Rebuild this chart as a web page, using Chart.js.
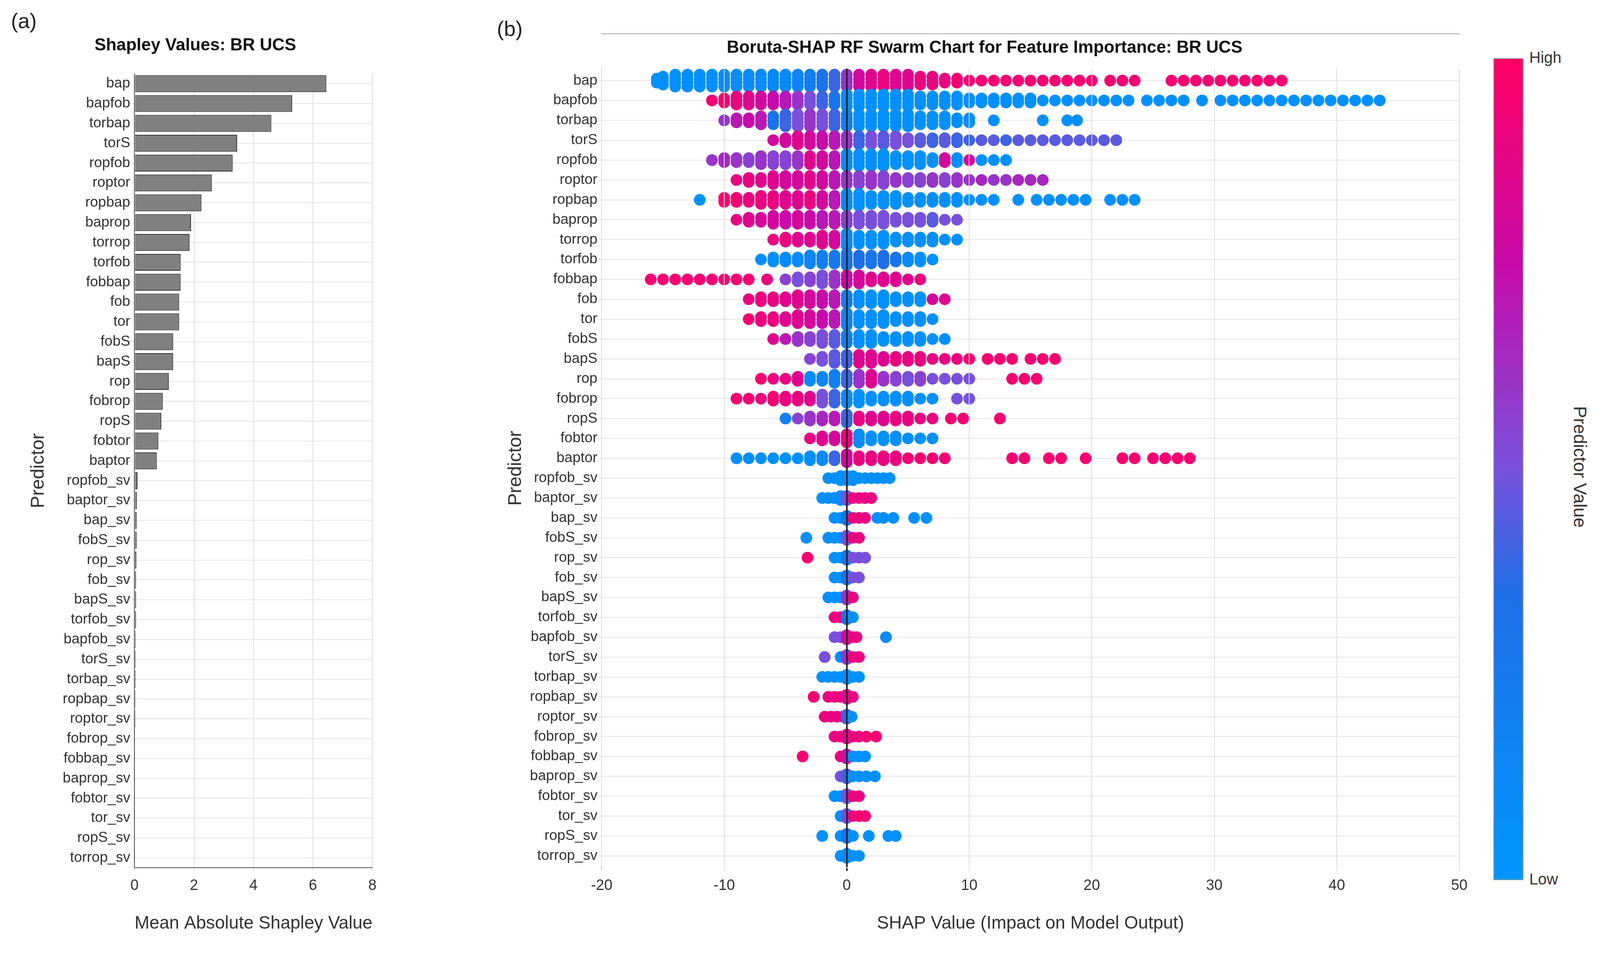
<!DOCTYPE html>
<html><head><meta charset="utf-8">
<script src="https://cdn.jsdelivr.net/npm/chart.js@4.4.1/dist/chart.umd.min.js"></script>
<style>
body{margin:0;width:4205px;height:2488px;background:#fff;position:relative;font-family:Arial,"Liberation Sans",sans-serif;overflow:hidden}
.lab{position:absolute;font-size:54px;color:#222}
#cA{position:absolute;left:40px;top:80px}
#cB{position:absolute;left:1288px;top:86px}
#cbar{position:absolute;left:3823px;top:149px;width:73px;height:2100px;border:2px solid #999;background:linear-gradient(to bottom,rgb(255,0,100),rgb(200,10,170) 25%,rgb(120,80,220) 50%,rgb(30,110,230) 65%,rgb(0,150,255))}
.ct{position:absolute;font-size:40px;color:#333}
</style></head><body>
<div class="lab" style="left:28px;top:22px">(a)</div>
<div class="lab" style="left:1272px;top:42px">(b)</div>
<canvas id="cA" width="940" height="2316"></canvas>
<canvas id="cB" width="2485" height="2310"></canvas>
<div id="cbar"></div>
<div class="ct" style="left:3915px;top:125px">High</div>
<div class="ct" style="left:3915px;top:2228px">Low</div>
<div class="ct" style="left:4045px;top:1195px;font-size:46px;transform:translate(-50%,-50%) rotate(90deg);white-space:nowrap">Predictor Value</div>
<script>
const predictors=["bap","bapfob","torbap","torS","ropfob","roptor","ropbap","baprop","torrop","torfob","fobbap","fob","tor","fobS","bapS","rop","fobrop","ropS","fobtor","baptor","ropfob_sv","baptor_sv","bap_sv","fobS_sv","rop_sv","fob_sv","bapS_sv","torfob_sv","bapfob_sv","torS_sv","torbap_sv","ropbap_sv","roptor_sv","fobrop_sv","fobbap_sv","baprop_sv","fobtor_sv","tor_sv","ropS_sv","torrop_sv"];
const meanAbsShap=[6.45,5.3,4.6,3.45,3.3,2.6,2.25,1.9,1.85,1.55,1.55,1.5,1.5,1.3,1.3,1.15,0.95,0.9,0.8,0.75,0.1,0.08,0.07,0.07,0.06,0.05,0.05,0.05,0.04,0.04,0.04,0.03,0.03,0.02,0.02,0.02,0.02,0.02,0.02,0.02];
const xTicksA=[0,2,4,6,8];
const xTicksB=[-20,-10,0,10,20,30,40,50];
// swarm points per predictor: "shap,colour(0=low,1=high),stackCount"
const swarm=[
"-15.5,.05,2 -15,.05,3 -14,.05,4 -13,.05,4 -12,.05,4 -11,.05,4 -10,.08,4 -9,.1,4 -8,.1,4 -7,.1,4 -6,.12,4 -5,.12,4 -4,.15,4 -3,.2,4 -2,.3,4 -1,.4,4 0,.6,4 1,.8,4 2,.85,4 3,.9,4 4,.85,4 5,.85,4 6,.9,3 7,.9,3 8,.9,2 9,.95,2 10,.95,1 11,.95,1 12,.95,1 13,.95,1 14,.95,1 15,.95,1 16,.95,1 17,.95,1 18,.95,1 19,.95,1 20,.95,1 21.5,.95,1 22.5,.95,1 23.5,.95,1 26.5,.95,1 27.5,.95,1 28.5,.95,1 29.5,.95,1 30.5,.95,1 31.5,.95,1 32.5,.95,1 33.5,.95,1 34.5,.95,1 35.5,.95,1",
"-11,.95,1 -10,.95,2 -9,.9,3 -8,.85,3 -7,.8,3 -6,.75,3 -5,.7,3 -4,.6,3 -3,.5,3 -2,.4,3 -1,.3,3 0,.1,4 1,.05,4 2,.05,4 3,.05,4 4,.05,4 5,.05,4 6,.05,3 7,.05,3 8,.05,3 9,.05,3 10,.05,2 11,.05,2 12,.05,2 13,.05,2 14,.05,2 15,.05,2 16,.05,1 17,.05,1 18,.05,1 19,.05,1 20,.05,1 21,.05,1 22,.05,1 23,.05,1 24.5,.05,1 25.5,.05,1 26.5,.05,1 27.5,.05,1 29,.05,1 30.5,.05,1 31.5,.05,1 32.5,.05,1 33.5,.05,1 34.5,.05,1 35.5,.05,1 36.5,.05,1 37.5,.05,1 38.5,.05,1 39.5,.05,1 40.5,.05,1 41.5,.05,1 42.5,.05,1 43.5,.05,1",
"-10,.6,1 -9,.7,2 -8,.75,2 -7,.7,3 -6,.3,3 -5,.4,4 -4,.5,4 -3,.6,4 -2,.5,4 -1,.4,4 0,.2,4 1,.05,4 2,.05,4 3,.05,4 4,.05,4 5,.05,4 6,.05,3 7,.05,3 8,.05,3 9,.05,2 10,.05,2 12,.05,1 16,.05,1 18,.05,1 18.8,.05,1",
"-6,.8,1 -5,.8,2 -4,.85,3 -3,.8,3 -2,.75,3 -1,.7,3 0,.6,3 1,.4,3 2,.5,3 3,.45,3 4,.5,3 5,.5,2 6,.45,2 7,.4,2 8,.45,2 9,.4,2 10,.4,1 11,.45,1 12,.45,1 13,.4,1 14,.45,1 15,.45,1 16,.45,1 17,.45,1 18,.45,1 19,.45,1 20,.45,1 21,.45,1 22,.45,1",
"-11,.6,1 -10,.65,2 -9,.6,2 -8,.55,2 -7,.6,3 -6,.55,3 -5,.55,3 -4,.6,3 -3,.85,3 -2,.8,3 -1,.7,3 0,.1,4 1,.05,4 2,.05,4 3,.05,4 4,.05,3 5,.05,3 6,.05,3 7,.05,2 8,.8,2 9,.05,2 10,.8,1 11,.05,1 12,.05,1 13,.05,1",
"-9,.9,1 -8,.9,2 -7,.85,2 -6,.85,3 -5,.8,3 -4,.8,3 -3,.85,3 -2,.8,3 -1,.7,3 0,.6,3 1,.55,3 2,.6,3 3,.55,3 4,.6,2 5,.55,2 6,.55,2 7,.6,2 8,.55,2 9,.6,2 10,.6,1 11,.65,1 12,.6,1 13,.6,1 14,.65,1 15,.65,1 16,.65,1",
"-12,.05,1 -10,.95,2 -9,.95,2 -8,.9,2 -7,.9,3 -6,.9,3 -5,.85,3 -4,.85,3 -3,.9,3 -2,.8,3 -1,.7,3 0,.1,4 1,.05,4 2,.05,3 3,.05,3 4,.05,3 5,.05,2 6,.05,2 7,.05,2 8,.05,2 9,.05,2 10,.05,1 11,.05,1 12,.05,1 14,.05,1 15.5,.05,1 16.5,.05,1 17.5,.05,1 18.5,.05,1 19.5,.05,1 21.5,.05,1 22.5,.05,1 23.5,.05,1",
"-9,.9,1 -8,.85,2 -7,.8,2 -6,.8,3 -5,.75,3 -4,.8,3 -3,.75,3 -2,.7,3 -1,.7,3 0,.55,3 1,.5,3 2,.5,3 3,.5,3 4,.5,2 5,.5,2 6,.5,2 7,.45,2 8,.5,1 9,.5,1",
"-6,.9,1 -5,.9,2 -4,.85,2 -3,.85,2 -2,.85,3 -1,.8,3 0,.1,4 1,.05,3 2,.05,3 3,.05,3 4,.05,2 5,.05,2 6,.05,2 7,.05,2 8,.05,1 9,.05,1",
"-7,.05,1 -6,.05,2 -5,.1,2 -4,.1,2 -3,.15,3 -2,.2,3 -1,.25,3 0,.3,4 1,.35,3 2,.3,3 3,.35,3 4,.3,2 5,.1,2 6,.05,2 7,.05,1",
"-16,.95,1 -15,.95,1 -14,.95,1 -13,.95,1 -12,.95,1 -11,.95,1 -10,.95,1 -9,.95,1 -8,.95,1 -6.5,.9,1 -5,.55,1 -4,.5,2 -3,.55,2 -2,.5,3 -1,.6,3 0,.75,3 1,.8,3 2,.85,2 3,.85,2 4,.85,2 5,.85,1 6,.9,1",
"-8,.9,1 -7,.9,2 -6,.9,2 -5,.85,2 -4,.85,3 -3,.8,3 -2,.75,3 -1,.7,3 0,.2,3 1,.05,3 2,.05,3 3,.05,3 4,.05,2 5,.05,2 6,.05,2 7,.8,1 8,.85,1",
"-8,.95,1 -7,.9,2 -6,.9,2 -5,.85,2 -4,.85,3 -3,.8,3 -2,.75,3 -1,.7,3 0,.15,4 1,.05,3 2,.05,3 3,.05,3 4,.05,2 5,.05,2 6,.05,2 7,.05,1",
"-6,.85,1 -5,.7,1 -4,.6,2 -3,.55,2 -2,.5,3 -1,.45,3 0,.2,3 1,.05,3 2,.05,3 3,.05,2 4,.05,2 5,.05,2 6,.05,2 7,.05,1 8,.05,1",
"-3,.55,1 -2,.5,2 -1,.45,3 0,.4,3 1,.85,3 2,.85,3 3,.85,2 4,.9,2 5,.9,2 6,.9,2 7,.9,1 8,.9,1 9,.9,1 10,.95,1 11.5,.95,1 12.5,.95,1 13.5,.95,1 15,.95,1 16,.95,1 17,.95,1",
"-7,.95,1 -6,.9,1 -5,.9,1 -4,.85,2 -3,.1,2 -2,.15,2 -1,.2,3 0,.4,3 1,.6,3 2,.85,3 3,.6,2 4,.55,2 5,.5,2 6,.55,2 7,.5,1 8,.5,1 9,.5,1 10,.5,1 13.5,.95,1 14.5,.95,1 15.5,.95,1",
"-9,.95,1 -8,.95,1 -7,.9,1 -6,.95,2 -5,.9,2 -4,.9,2 -3,.85,2 -2,.5,3 -1,.4,3 0,.1,3 1,.05,3 2,.05,2 3,.05,2 4,.05,2 5,.05,2 6,.05,1 7,.05,1 9,.5,1 10,.5,1",
"-5,.2,1 -4,.55,1 -3,.6,2 -2,.65,2 -1,.7,2 0,.4,3 1,.9,2 2,.85,2 3,.85,2 4,.9,2 5,.9,2 6,.9,1 7,.9,1 8.5,.95,1 9.5,.95,1 12.5,.95,1",
"-3,.9,1 -2,.85,2 -1,.8,2 0,.9,3 1,.1,3 2,.05,2 3,.05,2 4,.05,2 5,.05,1 6,.05,1 7,.05,1",
"-9,.05,1 -8,.05,1 -7,.05,1 -6,.05,1 -5,.05,1 -4,.05,1 -3,.05,2 -2,.1,2 -1,.4,2 0,.8,3 1,.9,2 2,.9,2 3,.9,2 4,.9,2 5,.95,1 6,.95,1 7,.95,1 8,.95,1 13.5,.95,1 14.5,.95,1 16.5,.95,1 17.5,.95,1 19.5,.95,1 22.5,.95,1 23.5,.95,1 25,.95,1 26,.95,1 27,.95,1 28,.95,1",
"-1.5,.05,1 -1,.05,1 -.5,.05,2 0,.1,2 .5,.05,2 1,.05,1 1.5,.05,1 2,.05,1 2.5,.05,1 3,.05,1 3.5,.05,1",
"-2,.05,1 -1.5,.05,1 -1,.1,1 -.5,.1,2 0,.5,2 .5,.9,1 1,.9,1 1.5,.9,1 2,.9,1",
"-1,.05,1 -.5,.05,1 0,.3,2 .5,.9,1 1,.9,1 1.5,.9,1 2.5,.05,1 3,.05,1 3.8,.05,1 5.5,.05,1 6.5,.05,1",
"-3.3,.05,1 -1.5,.05,1 -1,.05,1 -.5,.05,1 0,.5,2 .5,.9,1 1,.9,1",
"-3.2,.95,1 -1,.05,1 -.5,.05,1 0,.3,2 .5,.5,1 1,.5,1 1.5,.5,1",
"-1,.05,1 -.5,.05,1 0,.3,2 .5,.5,1 1,.5,1",
"-1.5,.05,1 -1,.05,1 -.5,.05,1 0,.6,2 .5,.9,1",
"-1,.9,1 -.5,.9,1 0,.3,2 .5,.05,1",
"-1,.5,1 -.5,.5,1 0,.8,2 .5,.9,1 .8,.9,1 3.2,.1,1",
"-1.8,.5,1 -.5,.05,1 0,.6,2 .5,.9,1 1,.9,1",
"-2,.05,1 -1.5,.05,1 -1,.05,1 -.5,.05,1 0,.1,2 .5,.05,1 1,.05,1",
"-2.7,.95,1 -1.5,.9,1 -1,.9,1 -.5,.9,1 0,.85,2 .5,.9,1",
"-1.8,.9,1 -1.3,.9,1 -.8,.9,1 -.3,.9,1 0,.4,2 .4,.05,1",
"-1,.9,1 -.5,.9,1 0,.85,2 .5,.9,1 1,.9,1 1.6,.95,1 2.4,.95,1",
"-3.6,.95,1 -.5,.9,1 0,.7,2 .5,.05,1 1,.05,1 1.5,.05,1",
"-.5,.5,1 0,.4,2 .5,.05,1 1,.05,1 1.6,.05,1 2.3,.05,1",
"-1,.05,1 -.5,.05,1 0,.5,2 .5,.9,1 1,.9,1",
"-.5,.05,1 0,.5,2 .5,.9,1 1,.95,1 1.5,.95,1",
"-2,.05,1 -.5,.05,1 0,.3,2 .5,.05,1 1.8,.05,1 3.4,.05,1 4,.05,1",
"-.5,.05,1 0,.1,2 .5,.05,1 1,.05,1"
];
const stops=[[0,[0,150,255]],[0.35,[30,110,230]],[0.5,[120,80,220]],[0.75,[200,10,170]],[1,[255,0,100]]];
function cmap(c){for(let i=1;i<stops.length;i++){if(c<=stops[i][0]){const[a,ca]=stops[i-1],[b,cb]=stops[i];const t=(c-a)/(b-a);return `rgb(${ca.map((v,k)=>Math.round(v+(cb[k]-v)*t)).join(',')})`;}}return 'rgb(255,0,100)';}
const pts=[],cols=[];
swarm.forEach((s,row)=>{s.trim().split(/\s+/).forEach(tok=>{const[x,c,n]=tok.split(',').map(Number);for(let k=0;k<n;k++){pts.push({x:x,y:row+(k-(n-1)/2)*0.2});cols.push(cmap(c));}});});
Chart.defaults.font.family='Arial, "Liberation Sans", sans-serif';
Chart.defaults.color='#333';
Chart.defaults.devicePixelRatio=1;
new Chart(document.getElementById('cA'),{type:'bar',data:{labels:predictors,datasets:[{data:meanAbsShap,backgroundColor:'#808080',borderColor:'#333',borderWidth:2,barPercentage:0.85,categoryPercentage:1}]},
options:{indexAxis:'y',responsive:false,animation:false,layout:{padding:{top:0,right:20}},
plugins:{legend:{display:false},title:{display:true,text:'Shapley Values: BR UCS',font:{size:44,weight:'bold'},color:'#111',padding:{top:10,bottom:46}}},
scales:{x:{min:0,max:8,afterBuildTicks:a=>{a.ticks=xTicksA.map(v=>({value:v}))},ticks:{font:{size:38},color:'#333',padding:16},grid:{color:'#ddd',lineWidth:2},border:{color:'#555',width:2},title:{display:true,text:'Mean Absolute Shapley Value',font:{size:46},color:'#333',padding:{top:30,bottom:4}}},
y:{ticks:{font:{size:37},color:'#333',autoSkip:false},grid:{color:'#e4e4e4',lineWidth:2,offset:false},border:{color:'#555',width:2},title:{display:true,text:'Predictor',font:{size:48},color:'#333',padding:30}}}}});
new Chart(document.getElementById('cB'),{type:'scatter',data:{datasets:[{data:pts,pointBackgroundColor:cols,pointBorderWidth:0,pointRadius:15}]},
options:{responsive:false,animation:false,layout:{padding:{top:0,right:20}},
plugins:{legend:{display:false},tooltip:{enabled:false},title:{display:true,text:'Boruta-SHAP RF Swarm Chart for Feature Importance: BR UCS',font:{size:44,weight:'bold'},color:'#111',padding:{top:10,bottom:27}}},
scales:{x:{min:-20,max:50,afterBuildTicks:a=>{a.ticks=xTicksB.map(v=>({value:v}))},ticks:{font:{size:38},color:'#333',padding:16},grid:{color:c=>c.tick&&c.tick.value===0?'#222':'#ddd',lineWidth:c=>c.tick&&c.tick.value===0?4:2,z:1},border:{color:'#555',width:2},title:{display:true,text:'SHAP Value (Impact on Model Output)',font:{size:46},color:'#333',padding:{top:30,bottom:4}}},
y:{reverse:true,min:-0.6,max:39.6,afterBuildTicks:a=>{a.ticks=predictors.map((p,i)=>({value:i}))},ticks:{font:{size:37},color:'#333',autoSkip:false,callback:v=>predictors[v]},grid:{color:'#e4e4e4',lineWidth:2},border:{color:'#555',width:2},title:{display:true,text:'Predictor',font:{size:48},color:'#333',padding:4}}}}});
</script></body></html>
